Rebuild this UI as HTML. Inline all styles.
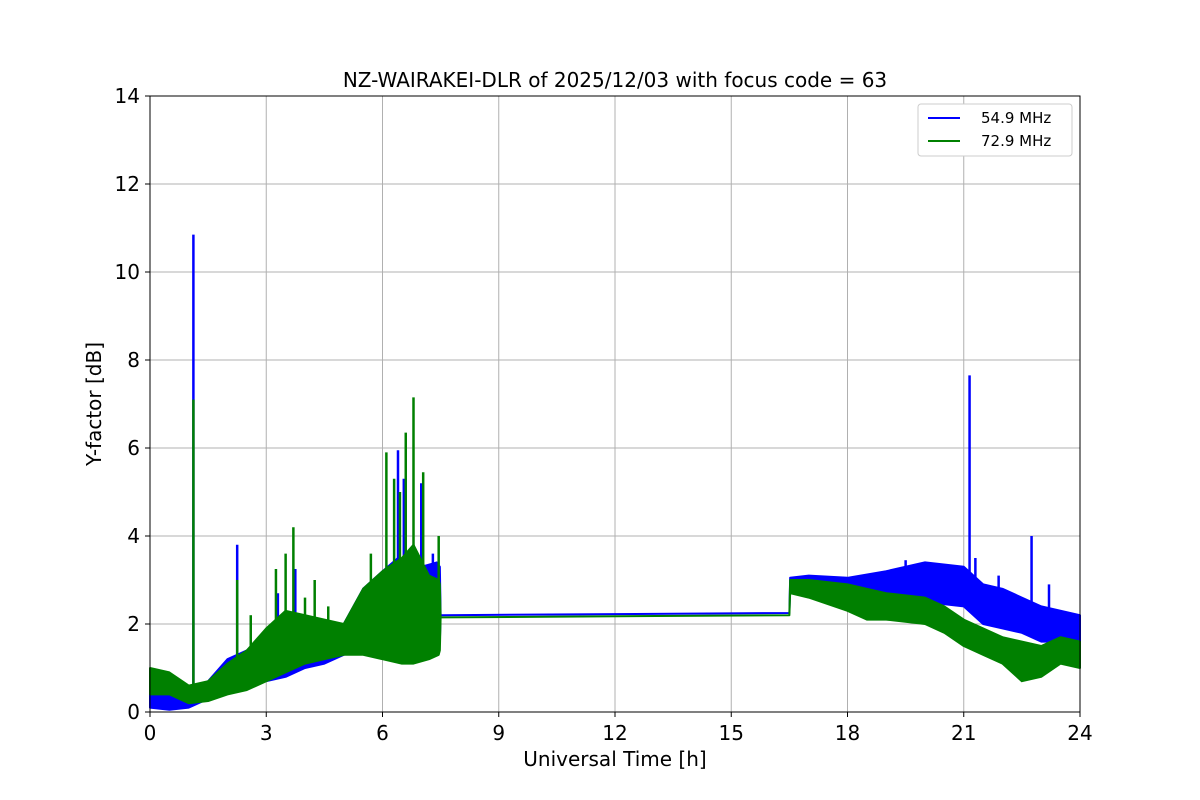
<!DOCTYPE html>
<html><head><meta charset="utf-8">
<style>
body{margin:0;background:#fff;}
svg{display:block;font-family:"DejaVu Sans","Liberation Sans",sans-serif;}
</style></head>
<body>
<svg id="chart" width="1200" height="800">
<rect width="1200" height="800" fill="#fff"/>
<text x="615" y="87" font-size="20" text-anchor="middle">NZ-WAIRAKEI-DLR of 2025/12/03 with focus code = 63</text>
<g id="grid"></g>
<g id="plot"></g>
<rect x="150" y="96" width="930" height="616" fill="none" stroke="#000" stroke-width="1"/>
<g id="ticks"></g>
<text x="615" y="766" font-size="20" text-anchor="middle">Universal Time [h]</text>
<text transform="translate(101,404) rotate(-90)" font-size="20" text-anchor="middle">Y-factor [dB]</text>
<g>
<rect x="918" y="104" width="154" height="52" rx="3" fill="#fff" stroke="#ccc"/>
<line x1="928" y1="118" x2="960" y2="118" stroke="blue" stroke-width="2"/>
<text x="981" y="123" font-size="15">54.9 MHz</text>
<line x1="928" y1="141" x2="960" y2="141" stroke="green" stroke-width="2"/>
<text x="981" y="146" font-size="15">72.9 MHz</text>
</g>
</svg>
<script>
const xTicks=[0,3,6,9,12,15,18,21,24];
const yTicks=[0,2,4,6,8,10,12,14];
// blue 54.9 MHz envelope: time, low, high
const blueT=[0,0.5,1.0,1.5,2,2.5,3,3.5,4,4.5,5,5.5,6,6.4,6.8,7.0,7.4,7.48,7.5,16.5,16.52,17,18,19,20,21,21.5,22,22.5,23,24];
const blueLo=[0.1,0.05,0.1,0.3,0.5,0.6,0.7,0.8,1.0,1.1,1.3,1.4,1.5,1.5,1.4,1.5,1.5,1.6,2.2,2.25,2.8,2.7,2.6,2.6,2.5,2.4,2.0,1.9,1.8,1.6,1.6];
const blueHi=[0.5,0.4,0.5,0.7,1.2,1.4,1.8,2.0,1.8,1.9,2.0,2.8,3.2,3.5,3.4,3.3,3.4,3.3,2.2,2.25,3.05,3.1,3.05,3.2,3.4,3.3,2.9,2.8,2.6,2.4,2.2];
const blueSpikeT=[1.12,2.25,3.3,3.75,6.4,6.55,7.0,7.3,19.5,21.15,21.3,21.9,22.75,23.2];
const blueSpikeV=[10.85,3.8,2.7,3.25,5.95,5.3,5.2,3.6,3.45,7.65,3.5,3.1,4.0,2.9];
const blueSpikeBase=[0.3,0.8,1.0,1.2,2.0,2.0,2.0,2.0,2.8,2.6,2.5,2.2,2.0,2.0];
// green 72.9 MHz envelope
const greenT=[0,0.5,1.0,1.5,2,2.5,3,3.5,4,4.5,5,5.5,6,6.5,6.8,7.2,7.45,7.48,7.5,16.5,16.52,17,18,18.5,19,20,20.5,21,21.5,22,22.5,23,23.5,24];
const greenLo=[0.4,0.4,0.2,0.25,0.4,0.5,0.7,0.9,1.1,1.2,1.3,1.3,1.2,1.1,1.1,1.2,1.3,1.4,2.15,2.2,2.7,2.6,2.3,2.1,2.1,2.0,1.8,1.5,1.3,1.1,0.7,0.8,1.1,1.0];
const greenHi=[1.0,0.9,0.6,0.7,1.1,1.4,1.9,2.3,2.2,2.1,2.0,2.8,3.2,3.5,3.8,3.1,3.0,2.9,2.15,2.2,3.0,3.0,2.9,2.8,2.7,2.6,2.4,2.1,1.9,1.7,1.6,1.5,1.7,1.6];
const greenSpikeT=[1.12,2.25,2.6,3.25,3.5,3.7,4.0,4.25,4.6,5.7,6.1,6.3,6.45,6.6,6.8,7.05,7.45];
const greenSpikeV=[7.1,3.0,2.2,3.25,3.6,4.2,2.6,3.0,2.4,3.6,5.9,5.3,5.0,6.35,7.15,5.45,4.0];
const greenSpikeBase=[0.3,0.8,1.0,1.2,1.4,1.5,1.5,1.5,1.5,2.0,2.0,2.0,2.0,2.0,2.0,2.0,2.0];

const X=t=>150+t/24*930, Y=v=>712-v/14*616;
const NS="http://www.w3.org/2000/svg";
function mk(tag,attrs,parent){const e=document.createElementNS(NS,tag);for(const k in attrs)e.setAttribute(k,attrs[k]);parent.appendChild(e);return e;}
const grid=document.getElementById('grid'),ticks=document.getElementById('ticks'),plot=document.getElementById('plot');
xTicks.forEach(t=>{
 const g=mk('line',{x1:X(t),x2:X(t),y1:96,y2:712,stroke:'#b0b0b0','stroke-width':1},grid);
 
 
 mk('line',{x1:X(t),x2:X(t),y1:712,y2:717,stroke:'#000'},ticks);
 const l=mk('text',{x:X(t),y:740,'font-size':20,'text-anchor':'middle'},ticks);
 l.textContent=t;
 
 
});
yTicks.forEach(v=>{
 const g=mk('line',{x1:150,x2:1080,y1:Y(v),y2:Y(v),stroke:'#b0b0b0','stroke-width':1},grid);
 
 
 mk('line',{x1:145,x2:150,y1:Y(v),y2:Y(v),stroke:'#000'},ticks);
 const l=mk('text',{x:140,y:Y(v)+7,'font-size':20,'text-anchor':'end'},ticks);
 l.textContent=v;
 
 
});
function series(T,Lo,Hi,sT,sV,sB,color,name){
 let pts=T.map((t,i)=>X(t)+','+Y(Hi[i]));
 for(let i=T.length-1;i>=0;i--)pts.push(X(T[i])+','+Y(Lo[i]));
 const p=mk('polygon',{points:pts.join(' '),fill:color,stroke:color,'stroke-width':2,'stroke-linejoin':'round'},plot);
 
 
 sT.forEach((t,i)=>{
  const s=mk('line',{x1:X(t),x2:X(t),y1:Y(sV[i]),y2:Y(sB[i]),stroke:color,'stroke-width':2.5},plot);
  
  
 });
}
series(blueT,blueLo,blueHi,blueSpikeT,blueSpikeV,blueSpikeBase,'blue','series-54mhz');
series(greenT,greenLo,greenHi,greenSpikeT,greenSpikeV,greenSpikeBase,'green','series-72mhz');
</script>
</body></html>
